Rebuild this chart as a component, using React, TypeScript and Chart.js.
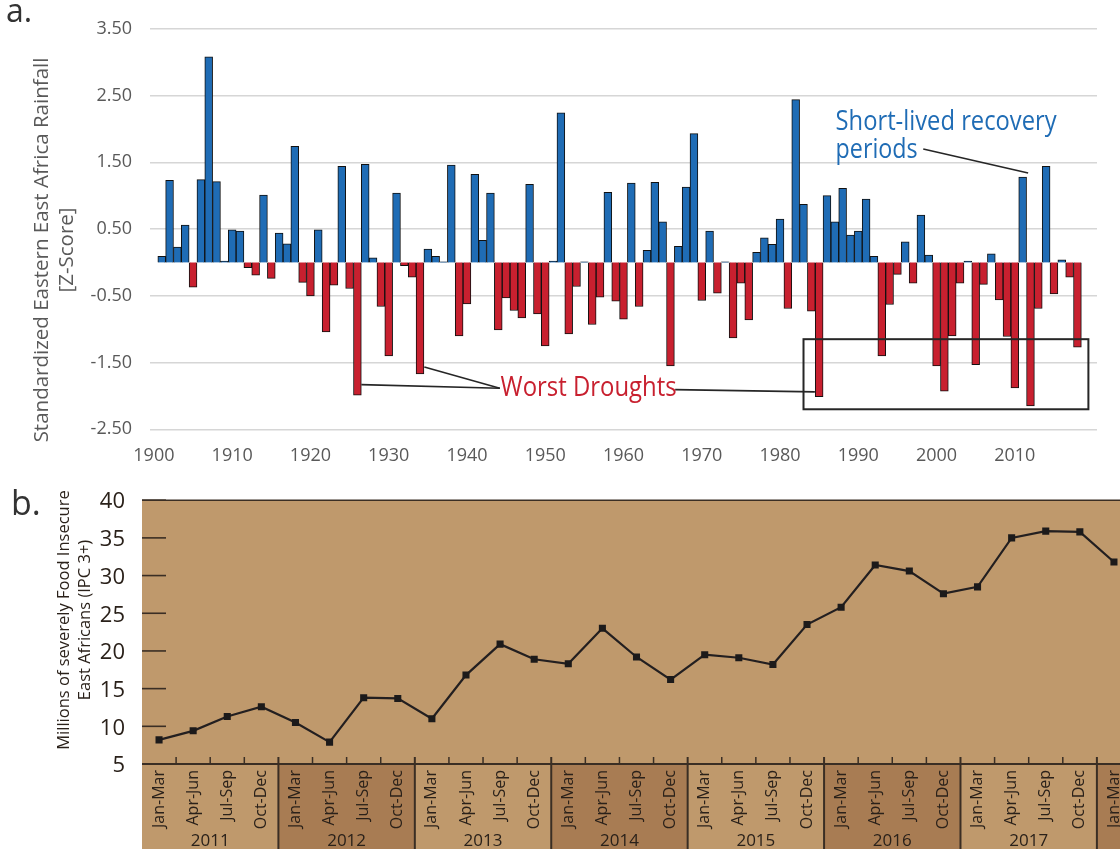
import React, { useEffect, useRef } from "react";
import { Chart, registerables } from "chart.js";

Chart.register(...registerables);

// ---------------- Panel a: rainfall z-scores ----------------
const RAIN_FIRST_YEAR = 1900; // first category on the axis
const RAIN_LAST_YEAR = 2020; // last category on the axis
const RAIN_DATA_START = 1901; // first year with a value
const RAIN_Z: number[] = [
  // 1901-1910
  0.09, 1.23, 0.23, 0.56, -0.37, 1.24, 3.08, 1.21, 0.02, 0.49,
  // 1911-1920
  0.47, -0.08, -0.19, 1.01, -0.24, 0.44, 0.28, 1.74, -0.3, -0.5,
  // 1921-1930
  0.49, -1.04, -0.34, 1.44, -0.39, -1.99, 1.47, 0.07, -0.66, -1.4,
  // 1931-1940
  1.04, -0.05, -0.22, -1.67, 0.2, 0.09, 0.01, 1.46, -1.1, -0.62,
  // 1941-1950
  1.32, 0.33, 1.04, -1.01, -0.53, -0.72, -0.83, 1.17, -0.77, -1.25,
  // 1951-1960
  0.02, 2.24, -1.07, -0.36, 0.01, -0.93, -0.52, 1.05, -0.58, -0.85,
  // 1961-1970
  1.19, -0.66, 0.18, 1.2, 0.61, -1.55, 0.24, 1.13, 1.93, -0.57,
  // 1971-1980
  0.47, -0.46, 0.01, -1.13, -0.31, -0.86, 0.15, 0.37, 0.27, 0.65,
  // 1981-1990
  -0.69, 2.44, 0.87, -0.73, -2.01, 1.0, 0.61, 1.11, 0.41, 0.47,
  // 1991-2000
  0.95, 0.09, -1.4, -0.63, -0.18, 0.31, -0.31, 0.71, 0.11, -1.55,
  // 2001-2010
  -1.93, -1.1, -0.31, 0.02, -1.53, -0.33, 0.13, -0.56, -1.11, -1.88,
  // 2011-2018
  1.28, -2.15, -0.69, 1.44, -0.47, 0.04, -0.22, -1.27,
];
const RAIN_Y_TICKS = [-2.5, -1.5, -0.5, 0.5, 1.5, 2.5, 3.5];
const RAIN_LABEL_STEP = 10;
const RAIN_LAST_LABEL = 2010;
const RAIN_TITLE = ["Standardized Eastern East Africa Rainfall", "[Z-Score]"];

const WET_COLOR = "#1f6cb5";
const DRY_COLOR = "#c8202f";

// annotations (data coordinates: year, z-score)
const DROUGHT_BOX = { fromYear: 1983, toYear: 2019.4, top: -1.15, bottom: -2.2 };
const DROUGHT_LABEL = { text: "Worst Droughts", year: 1944.3, z: -2.0 };
const DROUGHT_LEADERS: number[][] = [
  [1926.5, -1.83, 1944.2, -1.885],
  [1934.55, -1.567, 1944.2, -1.885],
  [1966.6, -1.905, 1984.45, -1.94],
];
const RECOVERY_LABEL = { lines: ["Short-lived recovery", "periods"], year: 1987.1, z: [1.99, 1.56] };
const RECOVERY_LEADER = [1998.3, 1.7, 2011.7, 1.34];

// ---------------- Panel b: food insecurity ----------------
const QUARTERS = ["Jan-Mar", "Apr-Jun", "Jul-Sep", "Oct-Dec"];
const FOOD_YEARS = [2011, 2012, 2013, 2014, 2015, 2016, 2017, 2018];
const FOOD_MILLIONS = [
  8.2, 9.4, 11.3, 12.6, // 2011
  10.5, 7.9, 13.8, 13.7, // 2012
  11.0, 16.8, 20.9, 18.9, // 2013
  18.3, 23.0, 19.2, 16.2, // 2014
  19.5, 19.1, 18.2, 23.5, // 2015
  25.8, 31.4, 30.6, 27.6, // 2016
  28.5, 35.0, 35.9, 35.8, // 2017
  31.8, // 2018 Jan-Mar
];
const FOOD_Y_TICKS = [5, 10, 15, 20, 25, 30, 35, 40];
const FOOD_TITLE = ["Millions of severely Food Insecure", "East Africans (IPC 3+)"];

const FONT = "'Open Sans', sans-serif";
const TAN = "#bf996c";
const TAN_DARK = "#a87c53";
const INK = "#2a211a";

function buildRainChart(canvas: HTMLCanvasElement) {
  const years: number[] = [];
  for (let y = RAIN_FIRST_YEAR; y <= RAIN_LAST_YEAR; y++) years.push(y);
  const series = years.map((y) => {
    const i = y - RAIN_DATA_START;
    return i >= 0 && i < RAIN_Z.length ? RAIN_Z[i] : null;
  });
  const colors = series.map((v) => (v !== null && v < 0 ? DRY_COLOR : WET_COLOR));

  const plugin = {
    id: "panelA",
    afterDraw(chart: any) {
      const { ctx, scales } = chart;
      const xs = scales.x;
      const ys = scales.y;
      const X = (yr: number) => xs.getPixelForValue(yr - RAIN_FIRST_YEAR);
      const Y = (v: number) => ys.getPixelForValue(v);
      ctx.save();
      // panel letter
      ctx.fillStyle = "#333333";
      ctx.font = `32px ${FONT}`;
      ctx.textAlign = "left";
      ctx.textBaseline = "alphabetic";
      ctx.fillText("a.", 6, 22);
      // y title
      ctx.fillStyle = "#595959";
      ctx.font = `20.5px ${FONT}`;
      ctx.textAlign = "center";
      ctx.textBaseline = "middle";
      RAIN_TITLE.forEach((line, i) => {
        ctx.save();
        ctx.translate(42 + i * 25, 250);
        ctx.rotate(-Math.PI / 2);
        ctx.fillText(line, 0, 0);
        ctx.restore();
      });
      // box
      ctx.strokeStyle = "#262626";
      ctx.lineWidth = 2;
      const bx0 = X(DROUGHT_BOX.fromYear);
      const bx1 = X(DROUGHT_BOX.toYear);
      const by0 = Y(DROUGHT_BOX.top);
      const by1 = Y(DROUGHT_BOX.bottom);
      ctx.strokeRect(bx0, by0, bx1 - bx0, by1 - by0);
      // leaders
      ctx.lineWidth = 1.6;
      for (const [x0, y0, x1, y1] of DROUGHT_LEADERS) {
        ctx.beginPath();
        ctx.moveTo(X(x0), Y(y0));
        ctx.lineTo(X(x1), Y(y1));
        ctx.stroke();
      }
      ctx.beginPath();
      ctx.moveTo(X(RECOVERY_LEADER[0]), Y(RECOVERY_LEADER[1]));
      ctx.lineTo(X(RECOVERY_LEADER[2]), Y(RECOVERY_LEADER[3]));
      ctx.stroke();
      // texts
      ctx.textAlign = "left";
      ctx.textBaseline = "alphabetic";
      ctx.font = `27px ${FONT}`;
      ctx.fillStyle = DRY_COLOR;
      ctx.fillText(DROUGHT_LABEL.text, X(DROUGHT_LABEL.year), Y(DROUGHT_LABEL.z), 176);
      ctx.fillStyle = WET_COLOR;
      ctx.fillText(RECOVERY_LABEL.lines[0], X(RECOVERY_LABEL.year), Y(RECOVERY_LABEL.z[0]), 221);
      ctx.fillText(RECOVERY_LABEL.lines[1], X(RECOVERY_LABEL.year), Y(RECOVERY_LABEL.z[1]), 82);
      ctx.restore();
    },
  };

  return new Chart(canvas, {
    type: "bar",
    data: {
      labels: years.map(String),
      datasets: [
        {
          data: series,
          backgroundColor: colors,
          borderColor: "#111111",
          borderWidth: 1,
          barPercentage: 1,
          categoryPercentage: 1,
        },
      ],
    },
    options: {
      responsive: false,
      animation: false,
      layout: { padding: { top: 27.3, right: 23, left: 0, bottom: 0 } },
      plugins: { legend: { display: false }, tooltip: { enabled: false } },
      scales: {
        x: {
          grid: { display: false, drawTicks: false },
          border: { display: false },
          ticks: {
            autoSkip: false,
            maxRotation: 0,
            minRotation: 0,
            padding: 16,
            color: "#595959",
            font: { family: FONT, size: 18 },
            callback: (_v: any, i: number) => {
              const yr = RAIN_FIRST_YEAR + i;
              return yr % RAIN_LABEL_STEP === 0 && yr <= RAIN_LAST_LABEL ? String(yr) : "";
            },
          },
          afterFit: (s: any) => {
            s.height = 40.7;
          },
        },
        y: {
          min: RAIN_Y_TICKS[0],
          max: RAIN_Y_TICKS[RAIN_Y_TICKS.length - 1],
          afterBuildTicks: (s: any) => {
            s.ticks = RAIN_Y_TICKS.map((v) => ({ value: v }));
          },
          grid: { color: "#d6d6d6", lineWidth: 1.6, drawTicks: false },
          border: { display: false },
          ticks: {
            padding: 18,
            color: "#595959",
            font: { family: FONT, size: 18 },
            callback: (v: any) => Number(v).toFixed(2),
          },
          afterFit: (s: any) => {
            s.width = 150;
          },
        },
      },
    },
    plugins: [plugin],
  } as any);
}

function buildFoodChart(canvas: HTMLCanvasElement) {
  const labels: string[] = [];
  FOOD_YEARS.forEach((y) => QUARTERS.forEach((q) => labels.push(`${q} ${y}`)));
  const cats = labels.slice(0, FOOD_MILLIONS.length);

  const plugin = {
    id: "panelB",
    beforeDraw(chart: any) {
      const { ctx, chartArea, scales } = chart;
      const xs = scales.x;
      const H = chart.height;
      ctx.save();
      ctx.fillStyle = TAN;
      ctx.fillRect(chartArea.left, chartArea.top, chartArea.right - chartArea.left, chartArea.bottom - chartArea.top);
      FOOD_YEARS.forEach((_y, i) => {
        const x0 = xs.getPixelForValue(i * 4 - 0.5);
        const x1 = xs.getPixelForValue(i * 4 + 3.5);
        ctx.fillStyle = i % 2 === 1 ? TAN_DARK : TAN;
        ctx.fillRect(x0, chartArea.bottom, x1 - x0, H - chartArea.bottom);
      });
      ctx.restore();
    },
    beforeDatasetsDraw(chart: any) {
      const { ctx, chartArea, scales } = chart;
      const xs = scales.x;
      const ys = scales.y;
      const H = chart.height;
      ctx.save();
      ctx.strokeStyle = "#3a2e24";
      // top border
      ctx.lineWidth = 1.6;
      ctx.beginPath();
      ctx.moveTo(chartArea.left, chartArea.top);
      ctx.lineTo(chartArea.right, chartArea.top);
      ctx.stroke();
      // y tick marks inside plot
      ctx.lineWidth = 1.6;
      FOOD_Y_TICKS.forEach((v) => {
        const y = ys.getPixelForValue(v);
        ctx.beginPath();
        ctx.moveTo(chartArea.left, y);
        ctx.lineTo(chartArea.left + 24, y);
        ctx.stroke();
      });
      // x axis line
      ctx.lineWidth = 2;
      ctx.beginPath();
      ctx.moveTo(chartArea.left, chartArea.bottom);
      ctx.lineTo(chartArea.right, chartArea.bottom);
      ctx.stroke();
      // quarter ticks / year separators
      for (let k = 1; k < cats.length + 3; k++) {
        const x = xs.getPixelForValue(k - 0.5);
        ctx.lineWidth = k % 4 === 0 ? 2 : 1.5;
        ctx.beginPath();
        ctx.moveTo(x, chartArea.bottom - 7);
        ctx.lineTo(x, k % 4 === 0 ? H : chartArea.bottom);
        ctx.stroke();
      }
      ctx.restore();
    },
    afterDraw(chart: any) {
      const { ctx, chartArea, scales } = chart;
      const xs = scales.x;
      const H = chart.height;
      ctx.save();
      ctx.fillStyle = INK;
      // quarter labels
      ctx.font = `16px ${FONT}`;
      ctx.textAlign = "right";
      ctx.textBaseline = "middle";
      cats.forEach((_c, i) => {
        ctx.save();
        ctx.translate(xs.getPixelForValue(i), chartArea.bottom + 6);
        ctx.rotate(-Math.PI / 2);
        ctx.fillText(QUARTERS[i % 4], 0, 0);
        ctx.restore();
      });
      // year labels
      ctx.font = `17px ${FONT}`;
      ctx.textAlign = "center";
      ctx.textBaseline = "alphabetic";
      FOOD_YEARS.forEach((y, i) => {
        const cx = (xs.getPixelForValue(i * 4 - 0.5) + xs.getPixelForValue(i * 4 + 3.5)) / 2;
        ctx.fillText(String(y), cx, H - 3);
      });
      // y title
      ctx.font = `16.5px ${FONT}`;
      ctx.textAlign = "center";
      ctx.textBaseline = "middle";
      FOOD_TITLE.forEach((line, i) => {
        ctx.save();
        ctx.translate(64 + i * 21, 150);
        ctx.rotate(-Math.PI / 2);
        ctx.fillText(line, 0, 0);
        ctx.restore();
      });
      // panel letter
      ctx.fillStyle = "#333333";
      ctx.font = `34px ${FONT}`;
      ctx.textAlign = "left";
      ctx.textBaseline = "alphabetic";
      ctx.fillText("b.", 11, 45);
      ctx.restore();
    },
  };

  return new Chart(canvas, {
    type: "line",
    data: {
      labels: cats,
      datasets: [
        {
          data: FOOD_MILLIONS,
          borderColor: "#231f20",
          borderWidth: 2.2,
          pointStyle: "rect",
          pointRadius: 5,
          pointBackgroundColor: "#1c1a1a",
          pointBorderWidth: 0,
          tension: 0,
        },
      ],
    },
    options: {
      responsive: false,
      animation: false,
      layout: { padding: { top: 20, right: 9, left: 0, bottom: 0 } },
      plugins: { legend: { display: false }, tooltip: { enabled: false } },
      scales: {
        x: {
          offset: true,
          grid: { display: false, drawTicks: false },
          border: { display: false },
          ticks: { display: false },
          afterFit: (s: any) => {
            s.height = 85;
          },
        },
        y: {
          min: FOOD_Y_TICKS[0],
          max: FOOD_Y_TICKS[FOOD_Y_TICKS.length - 1],
          afterBuildTicks: (s: any) => {
            s.ticks = FOOD_Y_TICKS.map((v) => ({ value: v }));
          },
          grid: { display: false, drawTicks: false },
          border: { display: false },
          ticks: {
            padding: 17,
            labelOffset: 2,
            color: INK,
            font: { family: FONT, size: 22 },
          },
          afterFit: (s: any) => {
            s.width = 142;
          },
        },
      },
    },
    plugins: [plugin],
  } as any);
}

export default function App() {
  const aRef = useRef<HTMLCanvasElement>(null);
  const bRef = useRef<HTMLCanvasElement>(null);
  useEffect(() => {
    const a = buildRainChart(aRef.current as HTMLCanvasElement);
    const b = buildFoodChart(bRef.current as HTMLCanvasElement);
    return () => {
      a.destroy();
      b.destroy();
    };
  }, []);
  return (
    <div
      style={{
        position: "fixed",
        left: 0,
        top: 0,
        width: 1120,
        height: 849,
        overflow: "hidden",
        background: "#ffffff",
      }}
    >
      <canvas ref={aRef} width={1120} height={470} style={{ position: "absolute", left: 0, top: 0 }} />
      <canvas ref={bRef} width={1140} height={379} style={{ position: "absolute", left: 0, top: 470 }} />
    </div>
  );
}
